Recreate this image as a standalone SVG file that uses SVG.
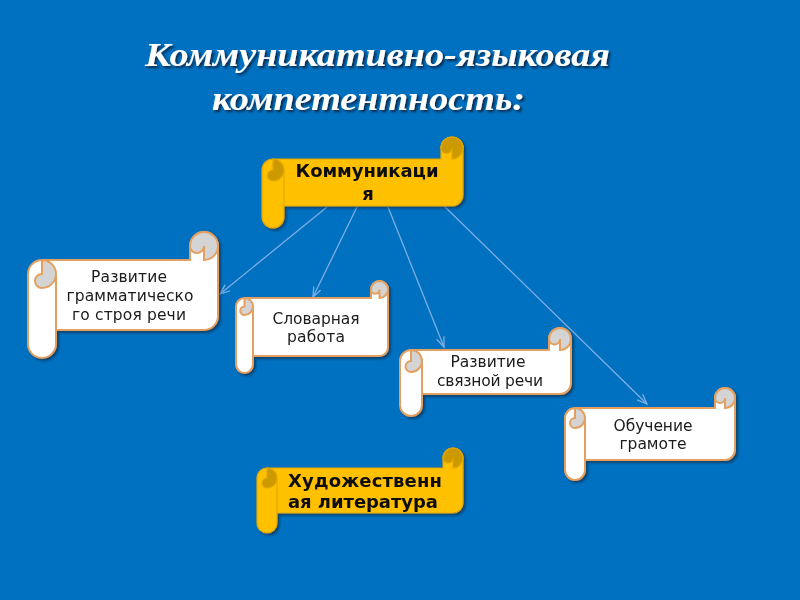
<svg xmlns="http://www.w3.org/2000/svg" width="800" height="600" viewBox="0 0 800 600">
<defs>
<style>
.title{font-family:"Liberation Serif",serif;font-weight:bold;font-style:italic;font-size:33px;fill:#fff;filter:url(#tsh)}
.ys .body{fill:#FFC000;stroke:#E3A800;stroke-width:1.2}
.ys .roll{fill:#CC9A00;stroke:#E3A800;stroke-width:1.2}
.ys .ln{fill:none;stroke:#E3A800;stroke-width:1.2}
.ws .body{fill:#fff;stroke:#E4A060;stroke-width:2}
.ws .roll{fill:#D4D4D4;stroke:#E4A060;stroke-width:2}
.ws .ln{fill:none;stroke:#E4A060;stroke-width:2}
.yt{font-family:"DejaVu Sans",sans-serif;font-weight:bold;font-size:18px;fill:#111;text-anchor:middle}
.wt{font-family:"DejaVu Sans",sans-serif;font-size:15.5px;fill:#1a1a1a;text-anchor:middle}
.conn path{fill:none;stroke:#7DAFE3;stroke-width:1.3}
</style>
<filter id="tsh" x="-5%" y="-20%" width="110%" height="150%">
<feDropShadow dx="2" dy="2" stdDeviation="0.8" flood-color="#0a1a33" flood-opacity="0.8"/>
</filter>
<filter id="sh" x="-5%" y="-5%" width="115%" height="120%">
<feDropShadow dx="2" dy="2" stdDeviation="1" flood-color="#0a1a33" flood-opacity="0.55"/>
</filter>
<marker id="ah" markerWidth="12" markerHeight="10" refX="10" refY="4.5" orient="auto" markerUnits="userSpaceOnUse">
<path d="M0,0.5 L10,4.5 L0,8.5" fill="none" stroke="#7DAFE3" stroke-width="1.3"/>
</marker>
</defs>
<rect width="800" height="600" fill="#0070C0"/>
<text class="title" x="145" y="66" textLength="465" lengthAdjust="spacingAndGlyphs">Коммуникативно-языковая</text>
<text class="title" x="212" y="110" textLength="313" lengthAdjust="spacingAndGlyphs">компетентность:</text>

<g id="connectors" class="conn">
<path d="M327,207 L220,294" marker-end="url(#ah)"/>
<path d="M357,207 L313,297" marker-end="url(#ah)"/>
<path d="M388,207 L444,347" marker-end="url(#ah)"/>
<path d="M442,204 L647,404" marker-end="url(#ah)"/>
</g>

<g id="kommunikatsiya" class="ys" filter="url(#sh)">
<path class="body" d="M452,137 A11,11 0 0 1 463,148 L463,195 A11,11 0 0 1 452,206 L284,206 L284,217 A11,11 0 0 1 262,217 L262,170 A11,11 0 0 1 273,159 L441,159 L441,148 A11,11 0 0 1 452,137 Z"/>
<path class="roll" d="M452,159 A11,11 0 1 0 441,148 A5.5,5.5 0 0 0 452,148 Z"/>
<path class="roll" d="M273,159 A11,11 0 0 1 273,181 A5.5,5.5 0 0 1 273,170 Z"/>
<path class="ln" d="M284,170 L284,206"/>
<text class="yt" x="367" y="177" textLength="143" lengthAdjust="spacing">Коммуникаци</text>
<text class="yt" x="368" y="200">я</text>
</g>

<g id="grammar" class="ws" filter="url(#sh)">
<path class="body" d="M204,232 A14,14 0 0 1 218,246 L218,316 A14,14 0 0 1 204,330 L56,330 L56,344 A14,14 0 0 1 28,344 L28,274 A14,14 0 0 1 42,260 L190,260 L190,246 A14,14 0 0 1 204,232 Z"/>
<path class="roll" d="M204,260 A14,14 0 1 0 190,246 A7,7 0 0 0 204,246 Z"/>
<path class="roll" d="M42,260 A14,14 0 0 1 42,288 A7,7 0 0 1 42,274 Z"/>
<path class="ln" d="M56,274 L56,330"/>
<text class="wt" x="129" y="282" textLength="76" lengthAdjust="spacing">Развитие</text>
<text class="wt" x="130" y="301" textLength="127" lengthAdjust="spacing">грамматическо</text>
<text class="wt" x="129" y="320" textLength="114" lengthAdjust="spacing">го строя речи</text>
</g>

<g id="slovar" class="ws" filter="url(#sh)">
<path class="body" d="M379.5,281 A8.5,8.5 0 0 1 388,289.5 L388,347.5 A8.5,8.5 0 0 1 379.5,356 L253,356 L253,364.5 A8.5,8.5 0 0 1 236,364.5 L236,306.5 A8.5,8.5 0 0 1 244.5,298 L371,298 L371,289.5 A8.5,8.5 0 0 1 379.5,281 Z"/>
<path class="roll" d="M379.5,298 A8.5,8.5 0 1 0 371,289.5 A4.25,4.25 0 0 0 379.5,289.5 Z"/>
<path class="roll" d="M244.5,298 A8.5,8.5 0 0 1 244.5,315 A4.25,4.25 0 0 1 244.5,306.5 Z"/>
<path class="ln" d="M253,306.5 L253,356"/>
<text class="wt" x="316" y="324" textLength="87" lengthAdjust="spacing">Словарная</text>
<text class="wt" x="316" y="342" textLength="58" lengthAdjust="spacing">работа</text>
</g>

<g id="svyaznaya" class="ws" filter="url(#sh)">
<path class="body" d="M560,328 A11,11 0 0 1 571,339 L571,383 A11,11 0 0 1 560,394 L422,394 L422,405 A11,11 0 0 1 400,405 L400,361 A11,11 0 0 1 411,350 L549,350 L549,339 A11,11 0 0 1 560,328 Z"/>
<path class="roll" d="M560,350 A11,11 0 1 0 549,339 A5.5,5.5 0 0 0 560,339 Z"/>
<path class="roll" d="M411,350 A11,11 0 0 1 411,372 A5.5,5.5 0 0 1 411,361 Z"/>
<path class="ln" d="M422,361 L422,394"/>
<text class="wt" x="488" y="367" textLength="75" lengthAdjust="spacing">Развитие</text>
<text class="wt" x="490" y="386" textLength="106" lengthAdjust="spacing">связной речи</text>
</g>

<g id="gramota" class="ws" filter="url(#sh)">
<path class="body" d="M725,388 A10,10 0 0 1 735,398 L735,450 A10,10 0 0 1 725,460 L585,460 L585,470 A10,10 0 0 1 565,470 L565,418 A10,10 0 0 1 575,408 L715,408 L715,398 A10,10 0 0 1 725,388 Z"/>
<path class="roll" d="M725,408 A10,10 0 1 0 715,398 A5,5 0 0 0 725,398 Z"/>
<path class="roll" d="M575,408 A10,10 0 0 1 575,428 A5,5 0 0 1 575,418 Z"/>
<path class="ln" d="M585,418 L585,460"/>
<text class="wt" x="653" y="431" textLength="79" lengthAdjust="spacing">Обучение</text>
<text class="wt" x="653" y="449" textLength="67" lengthAdjust="spacing">грамоте</text>
</g>

<g id="literatura" class="ys" filter="url(#sh)">
<path class="body" d="M453,448 A10,10 0 0 1 463,458 L463,503 A10,10 0 0 1 453,513 L277,513 L277,523 A10,10 0 0 1 257,523 L257,478 A10,10 0 0 1 267,468 L443,468 L443,458 A10,10 0 0 1 453,448 Z"/>
<path class="roll" d="M453,468 A10,10 0 1 0 443,458 A5,5 0 0 0 453,458 Z"/>
<path class="roll" d="M267,468 A10,10 0 0 1 267,488 A5,5 0 0 1 267,478 Z"/>
<path class="ln" d="M277,478 L277,513"/>
<text class="yt" x="365" y="487" textLength="154" lengthAdjust="spacing">Художественн</text>
<text class="yt" x="363" y="508" textLength="150" lengthAdjust="spacing">ая литература</text>
</g>
</svg>
